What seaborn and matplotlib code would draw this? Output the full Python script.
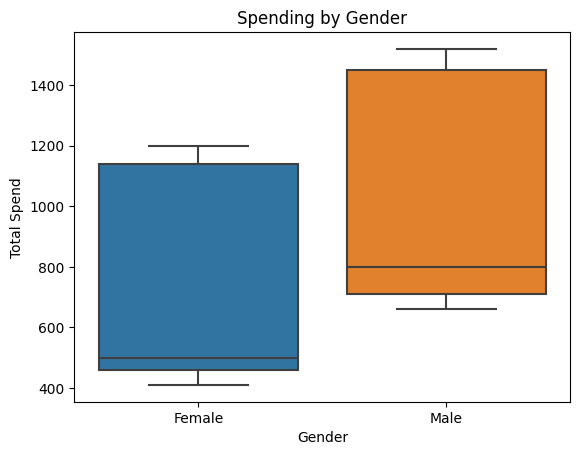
import matplotlib
matplotlib.use('Agg')
import matplotlib.pyplot as plt
import seaborn as sns
import pandas as pd

# spending values per customer
female_spend = [410, 460, 500, 1140, 1200]
male_spend = [660, 710, 800, 1450, 1520]
genders = ['Female', 'Male']

df = pd.DataFrame({
    'Gender': ['Female'] * len(female_spend) + ['Male'] * len(male_spend),
    'Total Spend': female_spend + male_spend,
})

fig, ax = plt.subplots(figsize=(6.4, 4.8), dpi=100)
sns.boxplot(data=df, x='Gender', y='Total Spend', hue='Gender', order=genders,
            hue_order=genders, palette=['#1f77b4', '#ff7f0e'], saturation=0.75,
            linecolor='#3f3f3f', linewidth=1.5, legend=False, ax=ax)
ax.set_title('Spending by Gender')
fig.savefig('out.png', bbox_inches='tight')
